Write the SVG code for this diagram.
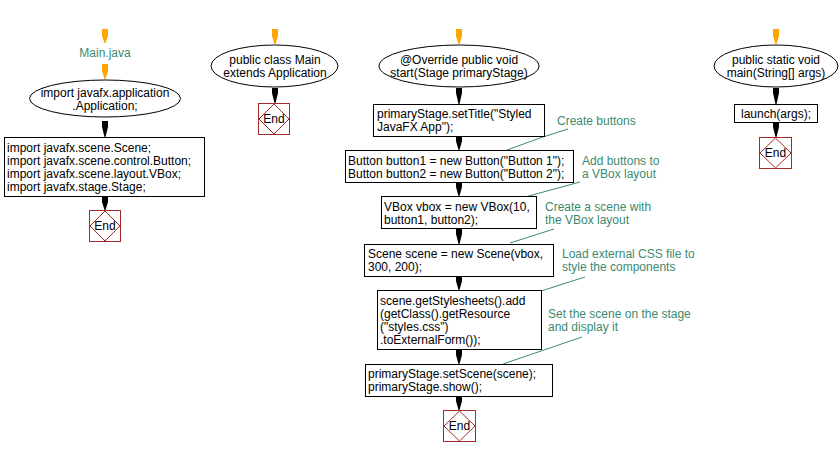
<svg xmlns="http://www.w3.org/2000/svg" width="840" height="457" viewBox="0 0 840 457">
<style>
text{font-family:"Liberation Sans",Arial,sans-serif;font-size:12px;fill:#000}
.c{text-anchor:middle}
.g{fill:#3b8a6e}
.box{fill:#fff;stroke:#000;stroke-width:1}
.end{fill:#fff;stroke:#a52a2a;stroke-width:1}
.ar{fill:#000}
.ao{fill:#ffa500}
.cl{fill:none;stroke:#3b8a6e;stroke-width:1}
</style>
<rect width="840" height="457" fill="#fff"/>
<g id="connectors">
<path class="ao" d="M102,29H108V36L105.5,43H104.5L102,36Z"/>
<path class="ao" d="M102,64H108V71L105.5,79H104.5L102,71Z"/>
<path class="ar" d="M102,121H108V127L105.5,137H104.5L102,127Z"/>
<path class="ar" d="M102,197H108V202L105.5,210H104.5L102,202Z"/>
<path class="ao" d="M272,29H278V36L275.5,44H274.5L272,36Z"/>
<path class="ar" d="M272,88H278V93L275.5,103H274.5L272,93Z"/>
<path class="ao" d="M456,29H462V36L459.5,44H458.5L456,36Z"/>
<path class="ar" d="M456,88H462V93L459.5,104H458.5L456,93Z"/>
<path class="ar" d="M456,136H462V141L459.5,150H458.5L456,141Z"/>
<path class="ar" d="M456,182H462V187L459.5,196H458.5L456,187Z"/>
<path class="ar" d="M456,229H462V234L459.5,244H458.5L456,234Z"/>
<path class="ar" d="M456,276H462V281L459.5,290H458.5L456,281Z"/>
<path class="ar" d="M456,350H462V355L459.5,364H458.5L456,355Z"/>
<path class="ar" d="M456,396H462V401L459.5,410H458.5L456,401Z"/>
<path class="ao" d="M773,29H779V36L776.5,44H775.5L773,36Z"/>
<path class="ar" d="M773,88H779V93L776.5,104H775.5L773,93Z"/>
<path class="ar" d="M773,122H779V127L776.5,137H775.5L773,127Z"/>
<path class="cl" d="M507,150L540,138L568,129"/>
<path class="cl" d="M525,197L580,182"/>
<path class="cl" d="M510,243L554,229"/>
<path class="cl" d="M541,291L585,277"/>
<path class="cl" d="M503,364L582,337"/>
</g>
<g id="main-java"><text class="c g" x="105" y="57">Main.java</text></g>
<g id="import-app">
<ellipse class="box" cx="105" cy="98.5" rx="75.5" ry="18.5"/>
<text class="c" x="105" y="97">import javafx.application</text>
<text class="c" x="105" y="110">.Application;</text>
</g>
<g id="imports">
<rect class="box" x="4.5" y="137.5" width="200" height="59"/>
<text x="7" y="152">import javafx.scene.Scene;</text>
<text x="7" y="165">import javafx.scene.control.Button;</text>
<text x="7" y="178">import javafx.scene.layout.VBox;</text>
<text x="7" y="191">import javafx.stage.Stage;</text>
</g>
<g id="end1">
<rect class="end" x="89.5" y="210.5" width="31" height="31"/>
<path class="end" d="M105,211L120,226L105,241L90,226Z"/>
<text class="c" x="105" y="230">End</text>
</g>
<g id="class-main">
<ellipse class="box" cx="274.5" cy="66" rx="63.5" ry="21"/>
<text class="c" x="275" y="64">public class Main</text>
<text class="c" x="275" y="77">extends Application</text>
</g>
<g id="end2">
<rect class="end" x="258.5" y="103.5" width="31" height="31"/>
<path class="end" d="M274,104L289,119L274,134L259,119Z"/>
<text class="c" x="274" y="123">End</text>
</g>
<g id="start">
<ellipse class="box" cx="459" cy="66" rx="80" ry="21"/>
<text class="c" x="459" y="64">@Override public void</text>
<text class="c" x="459" y="77">start(Stage primaryStage)</text>
</g>
<g id="set-title">
<rect class="box" x="373.5" y="104.5" width="171" height="32"/>
<text x="377" y="118">primaryStage.setTitle("Styled</text>
<text x="377" y="131">JavaFX App");</text>
</g>
<g id="buttons">
<rect class="box" x="345.5" y="150.5" width="228" height="32"/>
<text x="348" y="165">Button button1 = new Button("Button 1");</text>
<text x="348" y="178">Button button2 = new Button("Button 2");</text>
</g>
<g id="vbox">
<rect class="box" x="381.5" y="196.5" width="155" height="32"/>
<text x="384" y="211">VBox vbox = new VBox(10,</text>
<text x="384" y="224">button1, button2);</text>
</g>
<g id="scene">
<rect class="box" x="364.5" y="244.5" width="189" height="32"/>
<text x="368" y="258">Scene scene = new Scene(vbox,</text>
<text x="368" y="271">300, 200);</text>
</g>
<g id="stylesheets">
<rect class="box" x="377.5" y="290.5" width="164" height="59"/>
<text x="380" y="305">scene.getStylesheets().add</text>
<text x="380" y="318">(getClass().getResource</text>
<text x="380" y="331">("styles.css")</text>
<text x="380" y="344">.toExternalForm());</text>
</g>
<g id="set-scene">
<rect class="box" x="365.5" y="364.5" width="187" height="32"/>
<text x="368" y="378">primaryStage.setScene(scene);</text>
<text x="368" y="391">primaryStage.show();</text>
</g>
<g id="end3">
<rect class="end" x="443.5" y="410.5" width="32" height="31"/>
<path class="end" d="M459.5,411L475,426L459.5,441L444,426Z"/>
<text class="c" x="459.5" y="430">End</text>
</g>
<g id="comments">
<text class="g" x="557" y="125">Create buttons</text>
<text class="g" x="582" y="165">Add buttons to</text>
<text class="g" x="582" y="178">a VBox layout</text>
<text class="g" x="545" y="211">Create a scene with</text>
<text class="g" x="545" y="224">the VBox layout</text>
<text class="g" x="562" y="258">Load external CSS file to</text>
<text class="g" x="562" y="271">style the components</text>
<text class="g" x="548" y="318">Set the scene on the stage</text>
<text class="g" x="548" y="331">and display it</text>
</g>
<g id="main-method">
<ellipse class="box" cx="776" cy="66" rx="62" ry="21"/>
<text class="c" x="776" y="64">public static void</text>
<text class="c" x="776" y="77">main(String[] args)</text>
</g>
<g id="launch">
<rect class="box" x="734.5" y="104.5" width="83" height="18"/>
<text x="741" y="118">launch(args);</text>
</g>
<g id="end4">
<rect class="end" x="759.5" y="137.5" width="32" height="31"/>
<path class="end" d="M775.5,138L791,153L775.5,168L760,153Z"/>
<text class="c" x="775.5" y="157">End</text>
</g>
</svg>
